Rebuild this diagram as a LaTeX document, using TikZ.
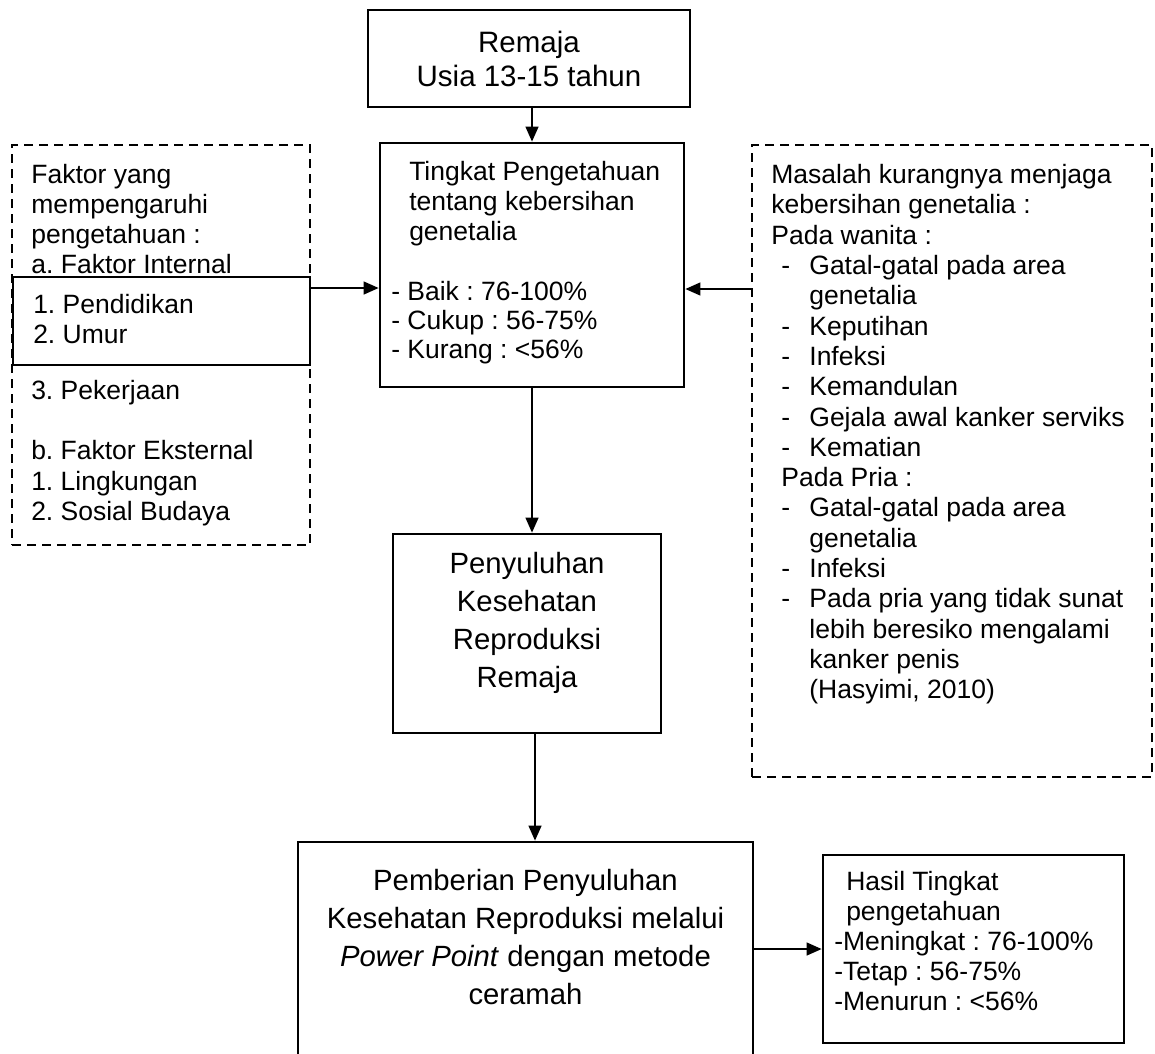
\documentclass[tikz,border=0pt]{standalone}
\usepackage{fontspec}
\setmainfont{Liberation Sans}
\frenchspacing
\usetikzlibrary{arrows.meta,positioning,calc}
\tikzset{flow box/.style={draw=black, line width=2.8pt, rectangle, inner sep=0pt}}
\tikzset{dash box/.style={flow box, line width=2.5pt, dash pattern=on 9pt off 6pt}}
\tikzset{box text/.style={inner sep=0pt, align=left, anchor=north west,
		font=\fontsize{26.5}{30}\selectfont}}
\tikzset{big text/.style={inner sep=0pt, align=center, anchor=north,
		font=\fontsize{29.3}{38}\selectfont}}
\newcommand{\itemdash}[1]{\hspace*{10pt}\makebox[28pt][l]{-}#1}
\newcommand{\itemgap}[1]{\hspace*{38pt}#1}

\begin{document}
\begin{tikzpicture}[->,>={Triangle[length=15pt,width=13pt]},line width=1.3pt,
					x=1pt, y=-1pt]
	\useasboundingbox (0,0) rectangle (1155,1053);
	\clip (0,0) rectangle (1155,1053);
	% main column
	\node[flow box, minimum width=322pt, minimum height=97pt, align=center,
		font=\fontsize{29.5}{34}\selectfont] at (529,58.5) (remaja) {Remaja\\Usia 13-15 tahun};
	\node[flow box, minimum width=304pt, minimum height=244pt] at (532,265) (tingkat) {};
	\node[box text] at ([shift={(12,19)}]tingkat.north west) (tingkat text) {\hspace*{18pt}Tingkat Pengetahuan\\\hspace*{18pt}tentang kebersihan\\\hspace*{18pt}genetalia\\[30pt]- Baik : 76-100\%\\[-1pt]- Cukup : 56-75\%\\[-1pt]- Kurang : <56\%};
	\node[flow box, minimum width=268pt, minimum height=199pt] at (527,633.5) (penyuluhan) {};
	\node[big text] at ([yshift=-19pt]penyuluhan.north) (penyuluhan text) {Penyuluhan\\Kesehatan\\Reproduksi\\Remaja};
	\node[flow box, minimum width=455pt, minimum height=240pt] at (525.5,962) (pemberian) {};
	\node[big text] at ([yshift=-28pt]pemberian.north) (pemberian text) {Pemberian Penyuluhan\\Kesehatan Reproduksi melalui\\\textit{Power Point} dengan metode\\ceramah};
	% left side
	\node[dash box, minimum width=298pt, minimum height=400pt] at (161,345) (faktor) {};
	\node[flow box, fill=white, minimum width=297pt, minimum height=88pt] at (161.5,321) (internal) {};
	\node[box text] at ([shift={(20,20)}]faktor.north west) (faktor top) {Faktor yang\\mempengaruhi\\pengetahuan :\\a. Faktor Internal};
	\node[box text] at ([shift={(21,18)}]internal.north west) (internal text) {1. Pendidikan\\2. Umur};
	\node[box text, font=\fontsize{26.5}{30.5}\selectfont] at ([shift={(19,13)}]internal.south west) (faktor bottom) {3. Pekerjaan\\[30pt]b. Faktor Eksternal\\1. Lingkungan\\2. Sosial Budaya};
	% right side
	\node[dash box, minimum width=400pt, minimum height=632pt] at (952,461) (masalah) {};
	\node[box text, font=\fontsize{26.5}{30.3}\selectfont] at ([shift={(20,20)}]masalah.north west) (masalah text) {Masalah kurangnya menjaga\\kebersihan genetalia :\\Pada wanita :\\\itemdash{Gatal-gatal pada area}\\\itemgap{genetalia}\\\itemdash{Keputihan}\\\itemdash{Infeksi}\\\itemdash{Kemandulan}\\\itemdash{Gejala awal kanker serviks}\\\itemdash{Kematian}\\\hspace*{10pt}Pada Pria :\\\itemdash{Gatal-gatal pada area}\\\itemgap{genetalia}\\\itemdash{Infeksi}\\\itemdash{Pada pria yang tidak sunat}\\\itemgap{lebih beresiko mengalami}\\\itemgap{kanker penis}\\\itemgap{(Hasyimi, 2010)}};
	\node[flow box, minimum width=301pt, minimum height=188pt] at (973.5,949) (hasil) {};
	\node[box text] at ([shift={(12,17)}]hasil.north west) (hasil text) {\hspace*{12pt}Hasil Tingkat\\\hspace*{12pt}pengetahuan\\-Meningkat : 76-100\%\\-Tetap : 56-75\%\\-Menurun : <56\%};
	% connectors
	\draw (remaja.south -| tingkat.north) -- (tingkat.north);
	\draw ([yshift=-23pt]tingkat.west -| internal.east) -- ([yshift=-23pt]tingkat.west);
	\draw ([yshift=-24pt]tingkat.east -| masalah.west) -- ([yshift=-24pt]tingkat.east);
	\draw (tingkat.south) -- (tingkat.south |- penyuluhan.north);
	\draw ([xshift=8pt]penyuluhan.south) -- ([xshift=8pt]penyuluhan.south |- pemberian.north);
	\draw (pemberian.east |- hasil.west) -- (hasil.west);
\end{tikzpicture}
\end{document}
